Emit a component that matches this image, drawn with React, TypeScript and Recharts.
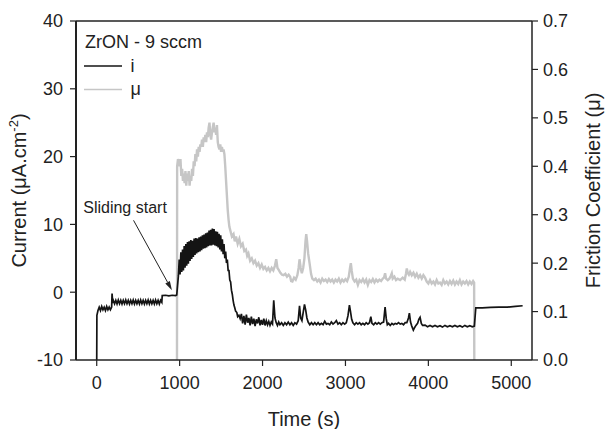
import React from "react";
import { LineChart, Line, XAxis, YAxis, ReferenceLine, ReferenceArea, Legend, Label } from "recharts";

// ---------- data ----------
const legendTitle = "ZrON - 9 sccm";
const currentName = "i";
const frictionName = "μ";

const timeDomain = [-250, 5250];
const timeTicks = [0, 1000, 2000, 3000, 4000, 5000];
const currentDomain = [-10, 40];
const currentTicks = [-10, 0, 10, 20, 30, 40];
const frictionTicks = [0, 0.1, 0.2, 0.3, 0.4, 0.5, 0.6, 0.7];

// Current i (µA.cm-2): [time (s), value]
const currentSeries: [number, number][] = [
  [0, -10], [2, -3.4], [15, -2.7], [30, -2.2], [45, -2.7], [60, -2.1], [75, -2.6], [90, -2.2], [105, -2.7], [120, -2.1], [135, -2.6], [150, -2.2], [165, -2.6], [180, -2.2], [185, -0.2], [192, -1.4],
  [200, -1.2], [215, -1.7], [230, -1.2], [245, -1.75], [260, -1.15], [275, -1.7], [290, -1.2], [305, -1.75], [320, -1.2], [335, -1.7], [350, -1.15], [365, -1.7], [380, -1.2], [395, -1.75], [410, -1.2], [425, -1.7], [440, -1.15], [455, -1.75], [470, -1.2], [485, -1.7], [500, -1.2], [515, -1.75], [530, -1.15], [545, -1.7], [560, -1.2], [575, -1.75], [590, -1.2], [605, -1.7], [620, -1.15], [635, -1.75], [650, -1.2], [665, -1.7], [680, -1.2], [695, -1.75], [710, -1.15], [725, -1.7], [740, -1.2], [755, -1.75], [770, -1.2], [785, -1.5],
  [790, -0.5], [830, -0.45], [870, -0.55], [910, -0.45], [950, -0.5], [965, -0.4],
  [975, 1.0], [985, 2.4], [995, 4.8], [1005, 2.6], [1015, 5.9], [1025, 3.0], [1035, 6.3], [1045, 3.2], [1055, 6.8], [1065, 3.6], [1075, 7.1], [1085, 3.9], [1095, 7.4], [1105, 4.2], [1115, 7.5], [1125, 4.6], [1135, 7.7], [1145, 4.9], [1155, 7.6], [1165, 5.2], [1175, 7.9], [1185, 5.5], [1195, 8.0], [1205, 5.7], [1215, 7.9], [1225, 5.9], [1235, 8.1], [1245, 6.0], [1255, 8.2], [1265, 6.2], [1275, 8.4], [1285, 6.4], [1295, 8.5], [1305, 6.5], [1315, 8.7], [1325, 6.6], [1335, 8.8], [1345, 6.8], [1355, 9.1], [1365, 6.9], [1375, 9.2], [1385, 6.9], [1395, 9.4], [1405, 7.0], [1415, 9.3], [1425, 6.9], [1435, 9.0], [1445, 6.8], [1455, 8.9], [1465, 6.6], [1475, 8.6], [1485, 6.3], [1495, 8.4], [1505, 6.0], [1515, 7.8], [1525, 5.6], [1535, 7.1], [1545, 5.0], [1555, 6.0], [1565, 4.3], [1575, 4.8], [1585, 3.2], [1595, 3.2], [1605, 1.8], [1615, 1.5], [1625, 0.3], [1635, -0.3], [1645, -1.2], [1655, -1.9], [1665, -2.3], [1675, -2.8], [1690, -3.0], [1700, -3.6], [1715, -3.4],
  [1730, -3.9], [1745, -3.2], [1760, -4.6], [1775, -3.5], [1790, -4.8], [1805, -3.3], [1820, -4.5], [1835, -3.8], [1850, -4.9], [1865, -3.6], [1880, -4.7], [1895, -3.9], [1910, -5.0], [1925, -4.0], [1940, -4.6], [1955, -3.7], [1970, -4.9], [1985, -4.1], [2000, -4.8], [2015, -3.9], [2030, -4.9], [2045, -4.2], [2060, -4.8], [2075, -4.3], [2090, -4.9], [2105, -4.4], [2120, -4.7], [2135, -1.2], [2150, -3.8], [2165, -4.5], [2180, -4.9], [2195, -4.4], [2210, -4.8], [2230, -4.5], [2250, -4.9], [2270, -4.5], [2290, -4.8], [2310, -4.4], [2330, -4.8], [2350, -4.5], [2370, -4.9], [2390, -4.5], [2410, -4.7], [2430, -4.2], [2446, -2.0], [2460, -3.8], [2475, -4.2], [2490, -3.0], [2506, -1.8], [2520, -2.6], [2535, -3.8], [2550, -4.4],
  [2570, -4.8], [2590, -4.5], [2610, -4.8], [2630, -4.5], [2650, -4.8], [2670, -4.5], [2690, -4.8], [2710, -4.6], [2730, -4.8], [2750, -4.3], [2770, -4.7], [2790, -4.6], [2810, -4.8], [2830, -4.4], [2850, -4.7], [2870, -4.5], [2890, -4.2], [2910, -4.7], [2930, -4.5], [2950, -4.8], [2970, -4.5], [2990, -4.7], [3010, -4.5], [3030, -3.5], [3048, -1.9], [3060, -2.8], [3075, -4.0], [3090, -4.5], [3110, -4.8], [3130, -4.5], [3150, -4.7], [3170, -4.5], [3190, -4.8], [3210, -4.6], [3230, -4.8], [3250, -4.5], [3270, -4.7], [3290, -4.5], [3306, -3.6], [3320, -4.6], [3340, -4.8], [3360, -4.5], [3380, -4.7], [3400, -4.5], [3420, -4.7], [3440, -4.5], [3460, -4.4], [3478, -2.2], [3492, -3.9], [3505, -4.8],
  [3520, -4.6], [3540, -4.9], [3560, -4.6], [3580, -4.8], [3600, -4.6], [3620, -4.7], [3640, -4.5], [3660, -4.7], [3680, -4.6], [3700, -4.8], [3720, -4.5], [3740, -4.5], [3760, -3.8], [3771, -3.1], [3785, -4.4], [3800, -5.0], [3819, -5.6], [3835, -5.2], [3850, -4.9], [3870, -4.6], [3885, -4.0], [3900, -3.7], [3915, -4.6], [3930, -4.9],
  [3960, -4.85], [3990, -5.1], [4020, -4.9], [4050, -5.1], [4080, -4.9], [4110, -5.1], [4140, -4.95], [4170, -5.15], [4200, -4.9], [4230, -5.1], [4260, -4.95], [4290, -5.1], [4320, -4.9], [4350, -5.1], [4380, -4.95], [4410, -5.15], [4440, -4.9], [4470, -5.1], [4500, -4.95], [4530, -5.1], [4555, -5.0],
  [4572, -2.3], [4650, -2.3], [4750, -2.25], [4850, -2.2], [4950, -2.2], [5050, -2.1], [5137, -2.0],
];

// Friction coefficient µ: [time (s), value]
const frictionSeries: [number, number][] = [
  [968, 0], [970, 0.4], [980, 0.415], [990, 0.41], [1000, 0.4], [1010, 0.415], [1020, 0.38], [1030, 0.395], [1040, 0.37], [1050, 0.385], [1060, 0.365], [1070, 0.39], [1080, 0.36], [1090, 0.385], [1100, 0.37], [1110, 0.39], [1120, 0.36], [1130, 0.38], [1140, 0.37], [1150, 0.395], [1160, 0.38], [1170, 0.41], [1180, 0.4], [1190, 0.425], [1200, 0.41], [1210, 0.435], [1220, 0.42], [1230, 0.44], [1240, 0.43], [1250, 0.445], [1260, 0.44], [1270, 0.455], [1280, 0.44], [1290, 0.46], [1300, 0.45], [1310, 0.465], [1320, 0.45], [1330, 0.47], [1340, 0.46], [1350, 0.48], [1360, 0.49], [1370, 0.465], [1380, 0.455], [1390, 0.47], [1400, 0.48], [1410, 0.49], [1420, 0.47], [1430, 0.48], [1440, 0.465], [1450, 0.485], [1460, 0.45], [1470, 0.44], [1480, 0.435], [1490, 0.445], [1500, 0.43], [1510, 0.44], [1520, 0.43], [1530, 0.435], [1540, 0.425],
  [1550, 0.4], [1560, 0.37], [1570, 0.34], [1580, 0.31], [1590, 0.29], [1600, 0.275], [1615, 0.265], [1630, 0.255], [1650, 0.26], [1665, 0.245], [1680, 0.255], [1700, 0.24], [1720, 0.25], [1740, 0.235], [1760, 0.24], [1780, 0.225], [1800, 0.228], [1815, 0.215], [1830, 0.22], [1850, 0.205], [1870, 0.21], [1890, 0.2], [1910, 0.205], [1930, 0.195], [1950, 0.2], [1970, 0.19], [1990, 0.197], [2010, 0.188], [2030, 0.192], [2050, 0.185], [2070, 0.19], [2090, 0.183], [2110, 0.19], [2130, 0.185], [2150, 0.195], [2165, 0.208], [2180, 0.19], [2195, 0.186], [2215, 0.18], [2235, 0.176], [2253, 0.175], [2275, 0.178], [2295, 0.172], [2315, 0.176], [2333, 0.172], [2345, 0.163], [2360, 0.162], [2380, 0.17], [2400, 0.166], [2420, 0.175], [2435, 0.19], [2446, 0.208], [2460, 0.19], [2474, 0.179], [2490, 0.19], [2505, 0.21], [2518, 0.245], [2527, 0.26], [2537, 0.245], [2550, 0.22], [2567, 0.2], [2585, 0.178],
  [2600, 0.168], [2620, 0.165], [2640, 0.168], [2660, 0.162], [2680, 0.166], [2700, 0.16], [2720, 0.168], [2740, 0.163], [2760, 0.166], [2780, 0.161], [2800, 0.167], [2820, 0.162], [2840, 0.166], [2860, 0.16], [2880, 0.166], [2900, 0.162], [2920, 0.168], [2940, 0.16], [2960, 0.166], [2980, 0.162], [3000, 0.167], [3020, 0.163], [3040, 0.172], [3055, 0.19], [3065, 0.2], [3075, 0.185], [3090, 0.168], [3110, 0.162], [3130, 0.166], [3150, 0.155], [3170, 0.165], [3190, 0.161], [3210, 0.167], [3230, 0.16], [3250, 0.166], [3270, 0.155], [3290, 0.165], [3310, 0.161], [3330, 0.167], [3350, 0.16], [3370, 0.166], [3390, 0.162], [3410, 0.166], [3430, 0.163], [3450, 0.168], [3465, 0.17], [3478, 0.179], [3490, 0.168],
  [3510, 0.165], [3530, 0.168], [3545, 0.173], [3559, 0.179], [3570, 0.168], [3590, 0.172], [3610, 0.165], [3630, 0.168], [3660, 0.165], [3690, 0.17], [3715, 0.166], [3730, 0.178], [3740, 0.189], [3750, 0.18], [3765, 0.176], [3780, 0.182], [3800, 0.175], [3820, 0.18], [3840, 0.172], [3860, 0.178], [3880, 0.17], [3900, 0.175], [3920, 0.168], [3940, 0.175], [3960, 0.17], [3980, 0.162],
  [4000, 0.158], [4020, 0.165], [4040, 0.158], [4060, 0.162], [4080, 0.156], [4100, 0.165], [4120, 0.158], [4140, 0.16], [4160, 0.155], [4180, 0.165], [4200, 0.158], [4220, 0.162], [4240, 0.156], [4260, 0.163], [4280, 0.157], [4300, 0.164], [4320, 0.156], [4340, 0.162], [4360, 0.157], [4380, 0.165], [4400, 0.156], [4420, 0.162], [4440, 0.158], [4460, 0.163], [4480, 0.156], [4500, 0.162], [4520, 0.157], [4540, 0.163], [4552, 0.16], [4554, 0],
];

// annotation
const annotationText = "Sliding start";
const annotationFrom = { t: 444, i: 10.6 };
const annotationTo = { t: 907, i: 0.3 };

// ---------- styling ----------
const FONT = "'Liberation Sans', Arial, Helvetica, sans-serif";
const AXIS = "#222";
const BLACK = "#141414";
const GRAY = "#c6c6c6";

// plot frame (page coordinates) used for the top border overlay
const FRAME = { left: 76, right: 532, top: 21 };

const currentData = currentSeries.map(([t, v]) => ({ t, v }));
const frictionData = frictionSeries.map(([t, v]) => ({ t, v }));

const tickStyle = { fontSize: 18, fill: AXIS, fontFamily: FONT };

const LeftTitle = (props: any) => {
  const vb = props.viewBox || { x: 0, y: 21, width: 76, height: 339 };
  const cx = vb.x + 26;
  const cy = vb.y + vb.height / 2;
  return (
    <text x={cx} y={cy} transform={`rotate(-90 ${cx} ${cy})`} textAnchor="middle" fontSize={20} fill={AXIS} fontFamily={FONT}>
      Current (μA.cm<tspan dy={-8} fontSize={13}>-2</tspan>
      <tspan dy={8}>)</tspan>
    </text>
  );
};

const RightTitle = (props: any) => {
  const vb = props.viewBox || { x: 532, y: 21, width: 74, height: 339 };
  const cx = vb.x + 67.5;
  const cy = vb.y + vb.height / 2;
  return (
    <text x={cx} y={cy} transform={`rotate(-90 ${cx} ${cy})`} textAnchor="middle" fontSize={20} fill={AXIS} fontFamily={FONT}>
      Friction Coefficient (μ)
    </text>
  );
};

const BottomTitle = (props: any) => {
  const vb = props.viewBox || { x: 76, y: 360, width: 456, height: 69 };
  return (
    <text x={vb.x + vb.width / 2} y={vb.y + 66} textAnchor="middle" fontSize={20} fill={AXIS} fontFamily={FONT}>
      Time (s)
    </text>
  );
};

const LegendContent = (props: any) => {
  const payload = props.payload || [];
  return (
    <svg width={130} height={75} style={{ display: "block", overflow: "visible" }}>
      <text x={9} y={20} fontSize={18} fill={AXIS} fontFamily={FONT}>
        {legendTitle}
      </text>
      {payload.map((p: any, k: number) => {
        const ly = 38 + k * 23.5;
        return (
          <g key={k}>
            <line x1={8} x2={46} y1={ly} y2={ly} stroke={p.color} strokeWidth={1.3} />
            <text x={54.5} y={ly + 5.5} fontSize={18} fill={AXIS} fontFamily={FONT}>
              {p.value}
            </text>
          </g>
        );
      })}
    </svg>
  );
};

const ArrowShape = (props: any) => {
  const { x1, y1, x2, y2 } = props;
  if (x1 == null) return null;
  const dx = x2 - x1;
  const dy = y2 - y1;
  const len = Math.sqrt(dx * dx + dy * dy) || 1;
  const ux = dx / len;
  const uy = dy / len;
  const hl = 9;
  const hw = 2.6;
  const bx = x2 - ux * hl;
  const by = y2 - uy * hl;
  const pts = `${x2},${y2} ${bx - uy * hw},${by + ux * hw} ${bx + uy * hw},${by - ux * hw}`;
  return (
    <g>
      <line x1={x1} y1={y1} x2={bx} y2={by} stroke="#222" strokeWidth={1} />
      <polygon points={pts} fill="#222" />
      <text x={x1 - 8.5} y={y1 - 7} textAnchor="middle" fontSize={16} fill={AXIS} fontFamily={FONT}>
        {annotationText}
      </text>
    </g>
  );
};

export default function App() {
  return (
    <div style={{ position: "absolute", left: 0, top: 0, width: 606, height: 429, background: "#fff", fontFamily: FONT }}>
      <LineChart width={606} height={429} margin={{ top: 21, right: 0, bottom: 0, left: 0 }}>
        <XAxis
          dataKey="t"
          type="number"
          domain={timeDomain}
          ticks={timeTicks}
          allowDataOverflow
          height={69}
          tick={tickStyle}
          tickSize={6}
          tickMargin={10}
          axisLine={{ stroke: AXIS, strokeWidth: 1.5 }}
          tickLine={{ stroke: AXIS, strokeWidth: 1.2 }}
        >
          <Label content={BottomTitle} />
        </XAxis>
        <YAxis
          yAxisId="left"
          orientation="left"
          domain={currentDomain}
          ticks={currentTicks}
          allowDataOverflow
          width={76}
          tick={tickStyle}
          tickSize={6}
          tickMargin={7}
          axisLine={{ stroke: AXIS, strokeWidth: 2 }}
          tickLine={{ stroke: AXIS, strokeWidth: 1.2 }}
        >
          <Label content={LeftTitle} />
        </YAxis>
        <YAxis
          yAxisId="right"
          orientation="right"
          domain={[0, 0.7]}
          ticks={frictionTicks}
          allowDataOverflow
          width={74}
          tick={tickStyle}
          tickFormatter={(v: number) => v.toFixed(1)}
          tickSize={6}
          tickMargin={5}
          axisLine={{ stroke: AXIS, strokeWidth: 1.5 }}
          tickLine={{ stroke: AXIS, strokeWidth: 1.2 }}
        >
          <Label content={RightTitle} />
        </YAxis>
        <Line
          yAxisId="right"
          data={frictionData}
          dataKey="v"
          name={frictionName}
          stroke={GRAY}
          strokeWidth={2.4}
          dot={false}
          activeDot={false}
          isAnimationActive={false}
        />
        <Line
          yAxisId="left"
          data={currentData}
          dataKey="v"
          name={currentName}
          stroke={BLACK}
          strokeWidth={1.7}
          dot={false}
          activeDot={false}
          isAnimationActive={false}
        />
        <ReferenceLine
          yAxisId="left"
          segment={[
            { x: annotationFrom.t, y: annotationFrom.i },
            { x: annotationTo.t, y: annotationTo.i },
          ]}
          ifOverflow="visible"
          shape={ArrowShape}
        />
        <Legend
          layout="vertical"
          align="center"
          verticalAlign="middle"
          content={LegendContent}
          payload={[
            { value: currentName, type: "line", color: BLACK, id: "i" },
            { value: frictionName, type: "line", color: GRAY, id: "mu" },
          ] as any}
          wrapperStyle={{ position: "absolute", left: 76, top: 28, width: 130, height: 75 }}
        />
      </LineChart>
      <svg
        width={606}
        height={429}
        style={{ position: "absolute", left: 0, top: 0, pointerEvents: "none", zIndex: 5 }}
      >
        <line x1={FRAME.left} x2={FRAME.right} y1={FRAME.top} y2={FRAME.top} stroke={AXIS} strokeWidth={1.5} />
      </svg>
    </div>
  );
}
